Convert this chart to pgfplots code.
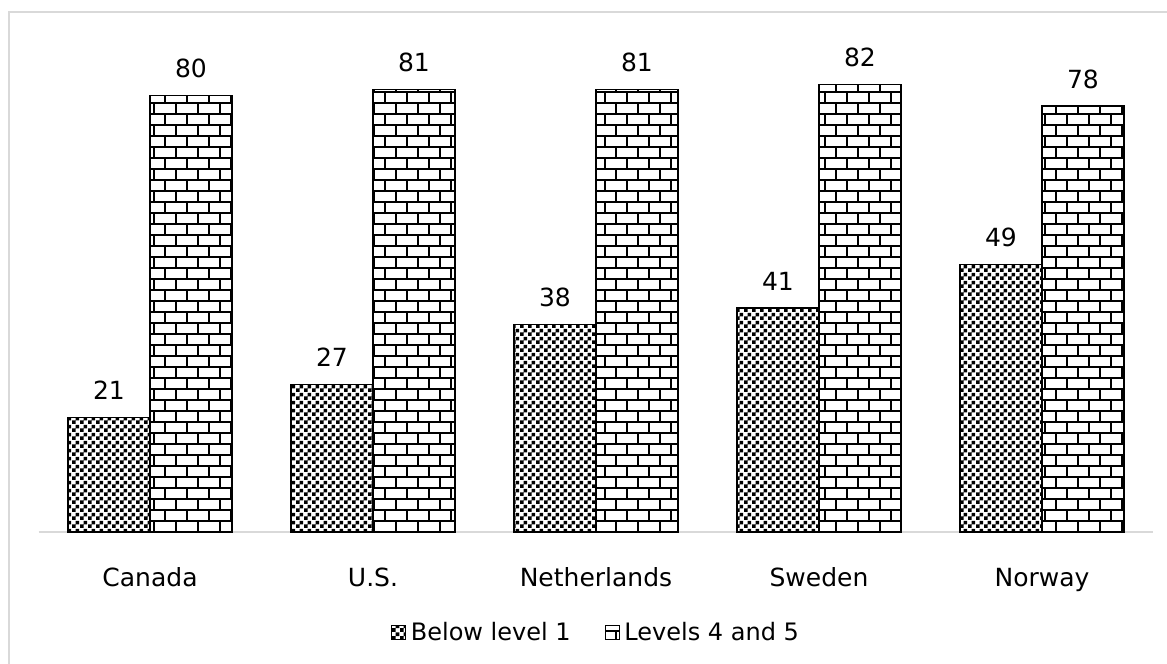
\documentclass[border=0pt]{standalone}
\usepackage{pgfplots}
\pgfplotsset{compat=1.18}
\usepackage{fontspec}
\setmainfont{DejaVu Sans}
\usetikzlibrary{patterns}

% checkerboard
\pgfdeclarepatternformonly{finecheck}{\pgfpointorigin}{\pgfpoint{8bp}{8bp}}{\pgfpoint{8bp}{8bp}}{%
  \pgfpathrectangle{\pgfpointorigin}{\pgfpoint{4bp}{4bp}}%
  \pgfpathrectangle{\pgfpoint{4bp}{4bp}}{\pgfpoint{4bp}{4bp}}%
  \pgfusepath{fill}}

% brick wall
\pgfdeclarepatternformonly{brickwall}{\pgfpoint{-1bp}{-1bp}}{\pgfpoint{23bp}{23bp}}{\pgfpoint{22bp}{22bp}}{%
  \pgfsetlinewidth{1.8bp}%
  \pgfpathmoveto{\pgfpoint{-1bp}{0bp}}\pgfpathlineto{\pgfpoint{23bp}{0bp}}%
  \pgfpathmoveto{\pgfpoint{-1bp}{11bp}}\pgfpathlineto{\pgfpoint{23bp}{11bp}}%
  \pgfpathmoveto{\pgfpoint{0bp}{0bp}}\pgfpathlineto{\pgfpoint{0bp}{11bp}}%
  \pgfpathmoveto{\pgfpoint{11bp}{11bp}}\pgfpathlineto{\pgfpoint{11bp}{22bp}}%
  \pgfusepath{stroke}}

\definecolor{framegray}{RGB}{217,217,217}

\begin{document}
\begin{tikzpicture}
\useasboundingbox (0,0) rectangle (1167bp,664bp);
\fill[white] (0,0) rectangle (1167bp,664bp);
\draw[framegray, line width=1.5bp] (9bp,-5bp) -- (9bp,652bp) -- (1175bp,652bp);
\begin{axis}[
  at={(38.5bp,132bp)}, anchor=south west,
  scale only axis, width=1115bp, height=491.4bp,
  ybar=0pt, bar width=82bp,
  xmin=-0.5, xmax=4.5, ymin=0, ymax=90,
  axis x line*=bottom, axis y line=none,
  x axis line style={framegray, line width=1.5bp},
  xtick=data, xticklabels={Canada,U.S.,Netherlands,Sweden,Norway},
  xtick style={draw=none},
  xticklabel style={font=\fontsize{25bp}{30bp}\selectfont, anchor=base, yshift=-50bp},
  clip=false,
  /pgf/number format/assume math mode=true,
  nodes near coords,
  nodes near coords style={font=\fontsize{25bp}{30bp}\selectfont, anchor=base, inner sep=0pt, yshift=18bp},
  legend columns=2,
  legend style={draw=none, at={(0.5,-0.2035)}, anchor=center,
    font=\fontsize{24bp}{28bp}\selectfont,
    /tikz/every odd column/.append style={column sep=3bp},
    /tikz/every even column/.append style={column sep=32bp}},
  legend image code/.code={\draw[#1, line width=0.8bp] (0bp,-7bp) rectangle (14bp,7bp);},
]
\addplot[draw=black, line width=1.4bp, pattern=finecheck, pattern color=black]
  coordinates {(0,21) (1,27) (2,38) (3,41) (4,49)};
\addplot[draw=black, line width=1.4bp, pattern=brickwall, pattern color=black]
  coordinates {(0,80) (1,81) (2,81) (3,82) (4,78)};
\legend{Below level 1, Levels 4 and 5}
\end{axis}
\end{tikzpicture}
\end{document}
